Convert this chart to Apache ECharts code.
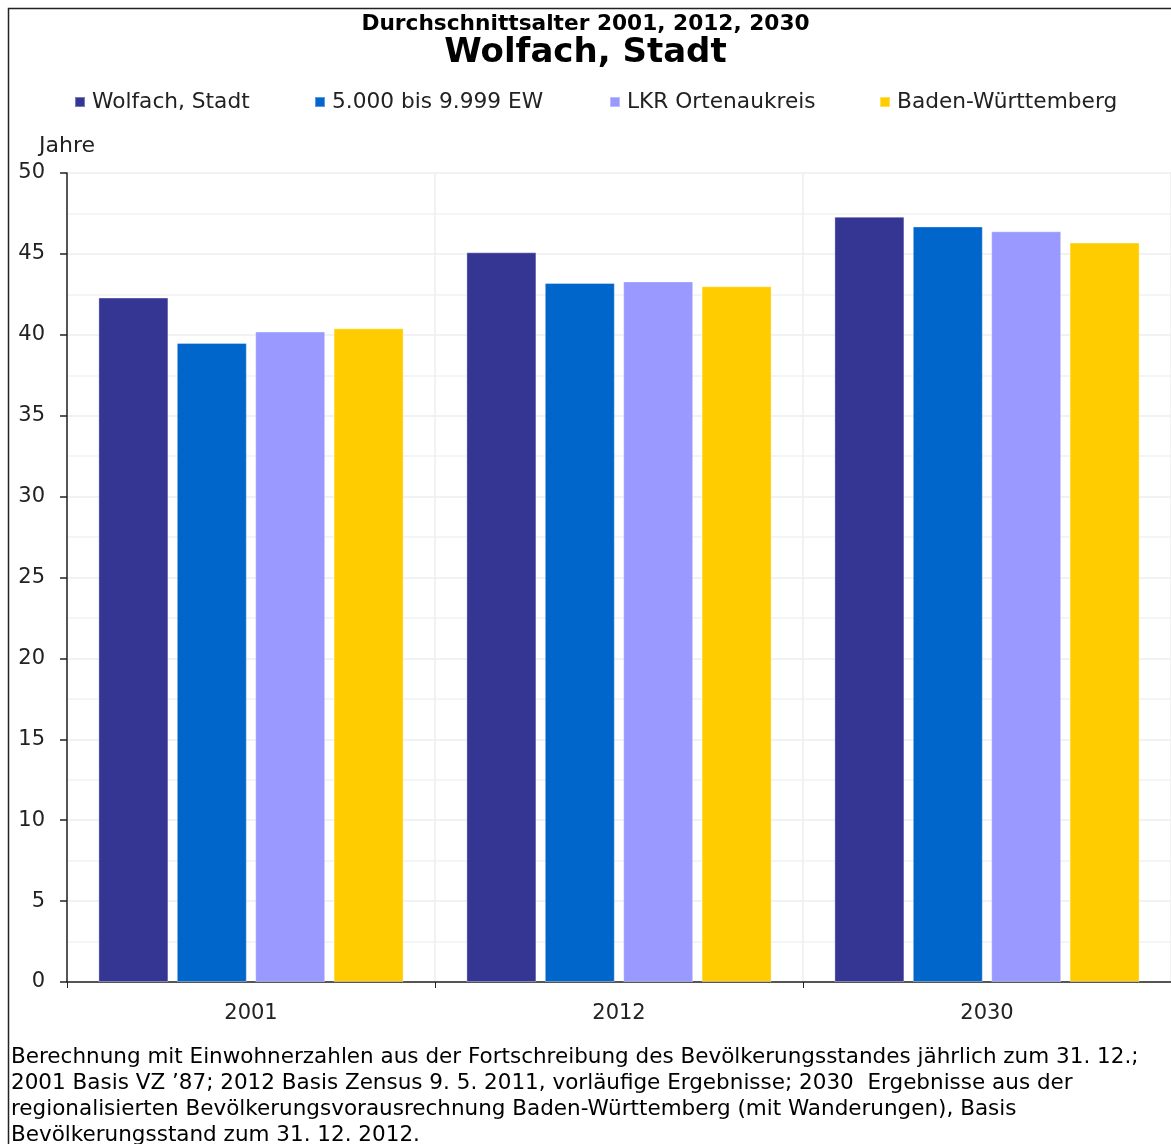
<!DOCTYPE html>
<html>
<head>
<meta charset="utf-8">
<style>
  html, body { margin: 0; padding: 0; background: #fff; }
  #chart { width: 1171px; height: 1144px; }
</style>
<script src="https://cdn.jsdelivr.net/npm/echarts@6/dist/echarts.min.js"></script>
</head>
<body>
<div id="chart"></div>
<script>
// Average age by year and region
const years = ['2001', '2012', '2030'];
const seriesNames = ['Wolfach, Stadt', '5.000 bis 9.999 EW', 'LKR Ortenaukreis', 'Baden-Württemberg'];
const wolfach = [42.3, 45.1, 47.3];
const gemeindeGroesse = [39.5, 43.2, 46.7];
const ortenaukreis = [40.2, 43.3, 46.4];
const badenWuerttemberg = [40.4, 43.0, 45.7];
const yTicks = [0, 5, 10, 15, 20, 25, 30, 35, 40, 45, 50];

const colors = ['#353594', '#0066CC', '#9999FF', '#FFCC00'];
const values = [wolfach, gemeindeGroesse, ortenaukreis, badenWuerttemberg];
const fontFamily = 'DejaVu Sans, Verdana, sans-serif';

const footer = [
  'Berechnung mit Einwohnerzahlen aus der Fortschreibung des Bevölkerungsstandes jährlich zum 31. 12.;',
  '2001 Basis VZ ’87; 2012 Basis Zensus 9. 5. 2011, vorläufige Ergebnisse; 2030  Ergebnisse aus der',
  'regionalisierten Bevölkerungsvorausrechnung Baden-Württemberg (mit Wanderungen), Basis',
  'Bevölkerungsstand zum 31. 12. 2012.'
].join('\n');

const legendLefts = [69, 309, 604, 874];

const chart = echarts.init(document.getElementById('chart'));
chart.setOption({
  animation: false,
  backgroundColor: '#fff',
  textStyle: { fontFamily: fontFamily },
  title: [
    {
      text: 'Durchschnittsalter 2001, 2012, 2030',
      left: 'center', top: 8,
      textStyle: { fontFamily: fontFamily, fontSize: 21.7, fontWeight: 'bold', color: '#000' }
    },
    {
      text: 'Wolfach, Stadt',
      left: 'center', top: 31,
      textStyle: { fontFamily: fontFamily, fontSize: 34, fontWeight: 'bold', color: '#000' }
    },
    {
      text: footer,
      left: 6, top: 1039,
      textStyle: { fontFamily: fontFamily, fontSize: 21.5, fontWeight: 'normal', color: '#000', lineHeight: 26 }
    }
  ],
  legend: seriesNames.map((name, i) => ({
    data: [name],
    left: legendLefts[i], top: 86,
    itemWidth: 10, itemHeight: 10, itemGap: 4,
    icon: 'rect',
    textStyle: { fontFamily: fontFamily, fontSize: 21.7, color: '#222', padding: [0, 0, 0, 2] }
  })),
  grid: { left: 67, right: -3, top: 173, bottom: 162, containLabel: false },
  xAxis: {
    type: 'category',
    data: years,
    axisLine: { lineStyle: { color: '#222', width: 1.5 } },
    axisTick: { show: true, length: 6, lineStyle: { color: '#222' } },
    axisLabel: { fontFamily: fontFamily, fontSize: 21, color: '#222', margin: 21 },
    splitLine: { show: true, lineStyle: { color: '#eeeeee', width: 1.5 } }
  },
  yAxis: {
    type: 'value',
    min: yTicks[0], max: yTicks[yTicks.length - 1], interval: 5,
    name: 'Jahre',
    nameLocation: 'end',
    nameGap: 16,
    nameTextStyle: { fontFamily: fontFamily, fontSize: 22, color: '#222', align: 'center' },
    axisLine: { show: true, lineStyle: { color: '#222', width: 1.5 } },
    axisTick: { show: true, length: 7, lineStyle: { color: '#222', width: 1.5 } },
    axisLabel: { fontFamily: fontFamily, fontSize: 21, color: '#222', margin: 22 },
    splitLine: { show: true, lineStyle: { color: '#eeeeee', width: 1.5 } },
    minorTick: { show: false, splitNumber: 2 },
    minorSplitLine: { show: true, lineStyle: { color: '#f2f2f2', width: 1.5 } }
  },
  series: seriesNames.map((name, i) => ({
    name: name,
    type: 'bar',
    data: values[i],
    barWidth: 70,
    barGap: '12%',
    itemStyle: { color: colors[i], borderColor: 'rgba(255,255,255,0.35)', borderWidth: 1 }
  })),
  graphic: [
    {
      type: 'rect',
      shape: { x: 8.5, y: 8.5, width: 1200, height: 1200 },
      style: { fill: 'none', stroke: '#222', lineWidth: 1.5 },
      silent: true, z: 100
    }
  ]
});
</script>
</body>
</html>
